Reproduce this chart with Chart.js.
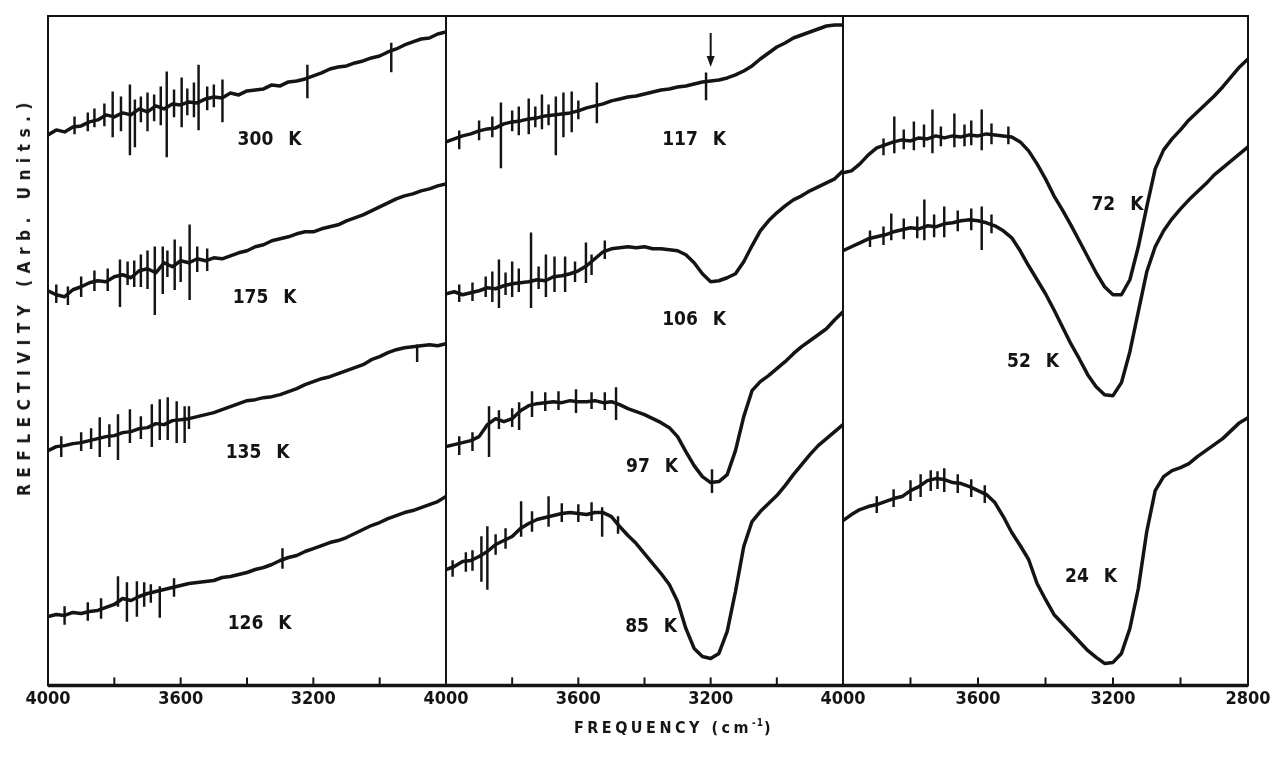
<!DOCTYPE html>
<html>
<head>
<meta charset="utf-8">
<script src="https://cdn.jsdelivr.net/npm/chart.js@4.4.1/dist/chart.umd.min.js"></script>
<style>
  html, body { margin: 0; padding: 0; background: #fff; }
  #wrap { position: relative; width: 1280px; height: 770px; overflow: hidden; }
  #spectra { position: absolute; left: 0; top: 0; }
  .axis-title {
    position: absolute; white-space: nowrap; color: #161616; font-weight: bold;
    font-family: 'DejaVu Sans Condensed', 'DejaVu Sans', sans-serif;
  }
  #ytitle { left: 24px; top: 296px; font-size: 17px; letter-spacing: 6.5px; transform: translate(-50%, -50%) rotate(-90deg); }
  #xtitle { left: 674px; top: 727px; font-size: 16px; letter-spacing: 3.5px; transform: translate(-50%, -50%); }
  #xtitle sup { font-size: 10px; letter-spacing: 1px; }
</style>
</head>
<body>
<div id="wrap">
  <canvas id="spectra" width="1280" height="770"></canvas>
  <div class="axis-title" id="ytitle">REFLECTIVITY (Arb. Units.)</div>
  <div class="axis-title" id="xtitle">FREQUENCY (cm<sup>-1</sup>)</div>
</div>
<script>
// frequency grid (cm-1), shared by every trace
const freq = [4000, 3975, 3950, 3925, 3900, 3875, 3850, 3825, 3800, 3775,
  3750, 3725, 3700, 3675, 3650, 3625, 3600, 3575, 3550, 3525,
  3500, 3475, 3450, 3425, 3400, 3375, 3350, 3325, 3300, 3275,
  3250, 3225, 3200, 3175, 3150, 3125, 3100, 3075, 3050, 3025,
  3000, 2975, 2950, 2925, 2900, 2875, 2850, 2825, 2800];

// reflectivity, arbitrary units (traces are offset vertically as in the figure)
const r300K = [552, 557, 555, 560, 561, 565, 567, 572, 570, 574,
  572, 578, 575, 581, 578, 583, 582, 585, 584, 588,
  590, 589, 594, 592, 596, 597, 598, 602, 601, 605,
  606, 608, 611, 614, 618, 620, 621, 624, 626, 629,
  631, 635, 638, 642, 645, 648, 649, 653, 655];
const r175K = [396, 392, 390, 397, 400, 404, 406, 405, 410, 412,
  409, 416, 418, 414, 424, 420, 426, 424, 428, 426,
  429, 428, 431, 434, 436, 440, 442, 446, 448, 450,
  453, 455, 455, 458, 460, 462, 466, 469, 472, 476,
  480, 484, 488, 491, 493, 496, 498, 501, 503];
const r135K = [236, 240, 241, 243, 244, 246, 248, 250, 251, 254,
  255, 258, 259, 263, 262, 266, 267, 268, 270, 272,
  274, 277, 280, 283, 286, 287, 289, 290, 292, 295,
  298, 302, 305, 308, 310, 313, 316, 319, 322, 327,
  330, 334, 337, 339, 340, 341, 342, 341, 343];
const r126K = [70, 72, 71, 74, 73, 75, 76, 79, 82, 88,
  86, 90, 93, 95, 97, 99, 101, 103, 104, 105,
  106, 109, 110, 112, 114, 117, 119, 122, 126, 129,
  131, 135, 138, 141, 144, 146, 149, 153, 157, 161,
  164, 168, 171, 174, 176, 179, 182, 185, 190];

const r117K = [545, 548, 551, 553, 556, 558, 559, 563, 565, 566,
  568, 569, 571, 572, 573, 574, 576, 579, 581, 583,
  586, 588, 590, 591, 593, 595, 597, 598, 600, 601,
  603, 605, 606, 607, 609, 612, 616, 621, 628, 634,
  640, 644, 649, 652, 655, 658, 661, 662, 662];
const r106K = [393, 395, 392, 394, 396, 399, 398, 401, 403, 404,
  405, 407, 406, 410, 411, 413, 416, 421, 428, 435,
  438, 439, 440, 439, 440, 438, 438, 437, 436, 432,
  424, 413, 405, 406, 409, 413, 425, 441, 456, 466,
  474, 481, 487, 491, 496, 500, 504, 508, 516];
const r97K = [240, 242, 244, 246, 250, 262, 268, 265, 268, 276,
  281, 283, 284, 285, 284, 286, 285, 285, 286, 284,
  285, 282, 278, 275, 272, 268, 264, 259, 250, 235,
  221, 210, 204, 205, 212, 236, 270, 296, 305, 311,
  318, 325, 333, 340, 346, 352, 358, 367, 375];
const r85K = [117, 120, 125, 126, 130, 135, 142, 146, 150, 158,
  163, 167, 169, 171, 173, 174, 173, 172, 174, 174,
  170, 160, 151, 143, 133, 123, 113, 102, 85, 58,
  38, 30, 28, 33, 55, 95, 140, 165, 175, 183,
  191, 201, 212, 222, 232, 241, 248, 255, 262];

const r72K = [514, 516, 523, 532, 539, 542, 545, 547, 546, 549,
  548, 551, 549, 551, 550, 552, 551, 553, 552, 551,
  550, 545, 536, 523, 508, 491, 477, 462, 446, 430,
  414, 400, 392, 392, 407, 440, 480, 518, 537, 548,
  557, 567, 575, 583, 591, 600, 610, 620, 628];
const r52K = [436, 440, 444, 448, 450, 452, 455, 457, 459, 458,
  461, 460, 463, 464, 466, 467, 466, 464, 461, 456,
  449, 436, 421, 407, 393, 377, 360, 343, 328, 312,
  300, 292, 291, 304, 335, 375, 415, 440, 456, 468,
  478, 487, 495, 503, 512, 519, 526, 533, 540];
const r24K = [166, 172, 177, 180, 182, 185, 188, 190, 196, 200,
  206, 208, 207, 204, 203, 200, 196, 192, 184, 170,
  154, 141, 127, 103, 87, 72, 63, 54, 45, 36,
  29, 23, 24, 33, 58, 98, 155, 196, 210, 216,
  219, 223, 230, 236, 242, 248, 256, 264, 269];

// noise spikes: [frequency, low, high]
const s300K = [[3920, 553, 570], [3880, 556, 574], [3860, 560, 578], [3830, 561, 583], [3805, 550, 595],
  [3780, 556, 590], [3753, 532, 602], [3738, 540, 587], [3720, 565, 590], [3700, 556, 594],
  [3680, 566, 592], [3660, 562, 600], [3642, 530, 615], [3620, 570, 597], [3597, 560, 609],
  [3580, 572, 598], [3560, 570, 604], [3546, 557, 622], [3520, 577, 600], [3500, 580, 602],
  [3474, 565, 607], [3218, 589, 622], [2965, 615, 644]];
const s175K = [[3975, 384, 402], [3940, 382, 400], [3900, 390, 410], [3860, 396, 416], [3820, 396, 418],
  [3783, 380, 427], [3760, 402, 425], [3740, 400, 426], [3720, 400, 432], [3700, 398, 436],
  [3678, 372, 440], [3654, 393, 440], [3640, 410, 436], [3618, 397, 447], [3600, 405, 440],
  [3573, 387, 462], [3550, 415, 440], [3520, 416, 438]];
const s135K = [[3960, 230, 250], [3900, 236, 254], [3870, 238, 258], [3844, 230, 269], [3815, 240, 262],
  [3789, 227, 272], [3753, 244, 277], [3720, 248, 270], [3687, 240, 282], [3663, 247, 287],
  [3639, 247, 289], [3612, 244, 285], [3588, 244, 280], [3575, 258, 280], [2887, 325, 342]];
const s126K = [[3950, 62, 80], [3880, 66, 84], [3840, 68, 88], [3789, 80, 110], [3762, 65, 104],
  [3732, 70, 105], [3710, 80, 104], [3690, 84, 102], [3663, 69, 100], [3620, 90, 108],
  [3293, 118, 138]];
const s117K = [[3960, 538, 556], [3900, 547, 566], [3860, 550, 570], [3834, 519, 584], [3800, 556, 576],
  [3780, 552, 580], [3750, 553, 588], [3730, 560, 580], [3710, 558, 592], [3690, 562, 582],
  [3668, 532, 590], [3645, 550, 594], [3620, 555, 595], [3600, 568, 586], [3544, 564, 604],
  [3214, 587, 614]];
const s106K = [[3960, 385, 402], [3920, 386, 404], [3880, 390, 410], [3860, 385, 415], [3840, 379, 427],
  [3820, 392, 414], [3800, 390, 425], [3780, 395, 418], [3743, 379, 454], [3720, 398, 420],
  [3698, 390, 432], [3672, 395, 430], [3640, 395, 430], [3610, 405, 425], [3577, 404, 444],
  [3560, 412, 432], [3520, 428, 446]];
const s97K = [[3960, 232, 250], [3920, 236, 254], [3870, 230, 280], [3840, 258, 276], [3800, 260, 278],
  [3779, 257, 284], [3740, 270, 295], [3700, 276, 294], [3660, 277, 295], [3607, 274, 297],
  [3560, 278, 294], [3520, 277, 294], [3486, 267, 299], [3196, 194, 217]];
const s85K = [[3980, 110, 126], [3940, 115, 134], [3920, 116, 136], [3893, 105, 150], [3875, 97, 160],
  [3850, 132, 152], [3820, 138, 158], [3773, 150, 185], [3740, 155, 175], [3690, 160, 190],
  [3650, 165, 183], [3600, 165, 182], [3560, 166, 184], [3528, 150, 179], [3480, 153, 170]];
const s72K = [[3880, 532, 548], [3848, 534, 570], [3820, 538, 557], [3790, 537, 565], [3760, 540, 562],
  [3735, 534, 577], [3710, 541, 560], [3670, 540, 573], [3640, 541, 562], [3620, 542, 566],
  [3589, 537, 577], [3560, 543, 563], [3510, 543, 560]];
const s52K = [[3920, 440, 456], [3880, 442, 460], [3857, 447, 473], [3820, 448, 468], [3780, 449, 470],
  [3759, 447, 487], [3730, 450, 472], [3700, 450, 480], [3660, 456, 476], [3620, 457, 478],
  [3589, 437, 480], [3560, 454, 472]];
const s24K = [[3900, 174, 190], [3850, 180, 197], [3800, 186, 206], [3770, 190, 212], [3740, 196, 216],
  [3720, 198, 215], [3700, 195, 218], [3660, 194, 212], [3620, 190, 207], [3580, 184, 201]];

// temperature labels
const labelText = ['300 K', '175 K', '135 K', '126 K', '117 K', '106 K', '97 K', '85 K', '72 K', '52 K', '24 K'];
const labelPanel = ['x1', 'x1', 'x1', 'x1', 'x2', 'x2', 'x2', 'x2', 'x3', 'x3', 'x3'];
const labelFreq = [3332, 3347, 3368, 3362, 3250, 3250, 3377, 3380, 3187, 3437, 3265];
const labelLevel = [547, 389, 234, 62, 547, 367, 220, 59, 482, 325, 109];

// arrow over the 117 K trace
const arrowFreq = 3200;
const arrowFrom = 654;
const arrowTo = 620;

const tickLabels = {
  x1: [4000, 3600, 3200],
  x2: [4000, 3600, 3200],
  x3: [4000, 3600, 3200, 2800]
};

const ink = '#141414';
const font = "'DejaVu Sans Condensed', 'DejaVu Sans', sans-serif";

function trace(values, axis) {
  return {
    type: 'line',
    data: freq.map((f, i) => ({ x: f, y: values[i] })),
    xAxisID: axis,
    borderColor: ink,
    borderWidth: 3.5,
    borderJoinStyle: 'round',
    pointRadius: 0,
    tension: 0
  };
}

function spikes(list, axis) {
  return {
    type: 'bar',
    data: list.map(s => ({ x: s[0], y: [s[1], s[2]] })),
    xAxisID: axis,
    backgroundColor: ink,
    borderWidth: 0,
    barThickness: 1.8,
    grouped: false
  };
}

function freqAxis(id, weight) {
  return {
    type: 'linear',
    position: 'bottom',
    stack: 'freq',
    stackWeight: weight,
    reverse: true,
    min: 2800,
    max: 4000,
    offset: false,
    grid: { display: false, drawTicks: false, offset: false },
    border: { display: false },
    ticks: {
      stepSize: 200,
      autoSkip: false,
      maxRotation: 0,
      padding: 3,
      color: ink,
      font: { family: font, size: 18, weight: 'bold' },
      callback: v => tickLabels[id].includes(v) ? String(v) : ''
    }
  };
}

// frame, panel separators and inward ticks
const framePlugin = {
  id: 'frame',
  afterDatasetsDraw(chart) {
    const { ctx, chartArea: a } = chart;
    ctx.save();
    ctx.strokeStyle = ink;
    ctx.lineWidth = 2;
    ctx.strokeRect(a.left, a.top, a.right - a.left, a.bottom - a.top);
    ['x2', 'x3'].forEach(id => {
      const s = chart.scales[id];
      ctx.beginPath();
      ctx.moveTo(s.left, a.top);
      ctx.lineTo(s.left, a.bottom);
      ctx.stroke();
    });
    ctx.lineWidth = 3.5;
    ctx.beginPath();
    ctx.moveTo(a.left, a.bottom);
    ctx.lineTo(a.right, a.bottom);
    ctx.stroke();
    ctx.lineWidth = 2;
    ['x1', 'x2', 'x3'].forEach(id => {
      const s = chart.scales[id];
      s.ticks.forEach(t => {
        if (t.value === s.min || t.value === s.max) return;
        const px = s.getPixelForValue(t.value);
        ctx.beginPath();
        ctx.moveTo(px, a.bottom);
        ctx.lineTo(px, a.bottom - 8);
        ctx.stroke();
      });
    });
    ctx.restore();
  }
};

const annotationPlugin = {
  id: 'annotations',
  afterDatasetsDraw(chart) {
    const { ctx } = chart;
    const y = chart.scales.y;
    ctx.save();
    ctx.fillStyle = ink;
    ctx.font = 'bold 19px ' + font;
    ctx.textAlign = 'center';
    ctx.textBaseline = 'middle';
    ctx.wordSpacing = '9px';
    labelText.forEach((t, i) => {
      const x = chart.scales[labelPanel[i]].getPixelForValue(labelFreq[i]);
      ctx.fillText(t, x, y.getPixelForValue(labelLevel[i]));
    });
    const ax = chart.scales.x2.getPixelForValue(arrowFreq);
    const y0 = y.getPixelForValue(arrowFrom);
    const y1 = y.getPixelForValue(arrowTo);
    ctx.strokeStyle = ink;
    ctx.lineWidth = 2;
    ctx.beginPath();
    ctx.moveTo(ax, y0);
    ctx.lineTo(ax, y1 - 6);
    ctx.stroke();
    ctx.beginPath();
    ctx.moveTo(ax - 4, y1 - 11);
    ctx.lineTo(ax + 4, y1 - 11);
    ctx.lineTo(ax, y1);
    ctx.closePath();
    ctx.fill();
    ctx.restore();
  }
};

new Chart(document.getElementById('spectra'), {
  type: 'line',
  data: {
    datasets: [
      trace(r300K, 'x1'), trace(r175K, 'x1'), trace(r135K, 'x1'), trace(r126K, 'x1'),
      trace(r117K, 'x2'), trace(r106K, 'x2'), trace(r97K, 'x2'), trace(r85K, 'x2'),
      trace(r72K, 'x3'), trace(r52K, 'x3'), trace(r24K, 'x3'),
      spikes(s300K, 'x1'), spikes(s175K, 'x1'), spikes(s135K, 'x1'), spikes(s126K, 'x1'),
      spikes(s117K, 'x2'), spikes(s106K, 'x2'), spikes(s97K, 'x2'), spikes(s85K, 'x2'),
      spikes(s72K, 'x3'), spikes(s52K, 'x3'), spikes(s24K, 'x3')
    ]
  },
  options: {
    responsive: false,
    animation: false,
    layout: { padding: { left: 48, right: 32, top: 16, bottom: 57 } },
    plugins: {
      legend: { display: false },
      tooltip: { enabled: false }
    },
    scales: {
      x1: freqAxis('x1', 398),
      x2: freqAxis('x2', 397),
      x3: freqAxis('x3', 405),
      y: { display: false, min: 1, max: 671 }
    }
  },
  plugins: [framePlugin, annotationPlugin]
});
</script>
</body>
</html>
